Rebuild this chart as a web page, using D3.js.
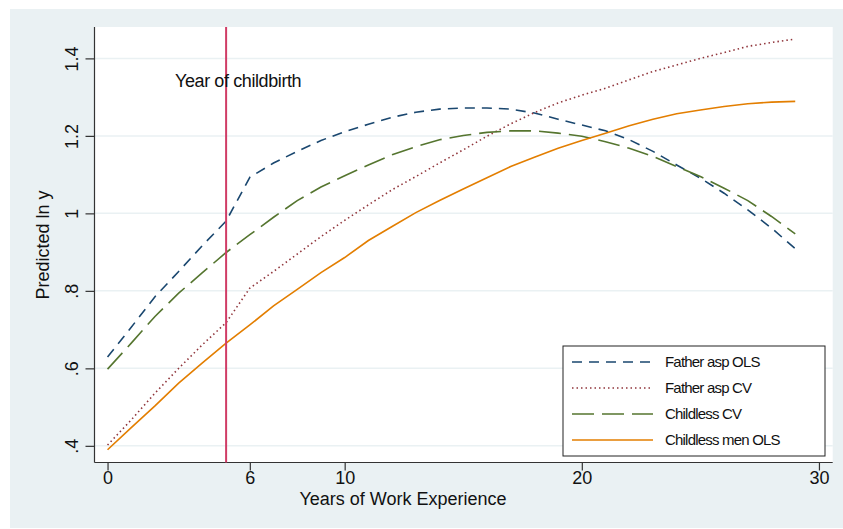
<!DOCTYPE html>
<html>
<head>
<meta charset="utf-8">
<script src="https://cdn.jsdelivr.net/npm/d3@7"></script>
<style>
  body { margin: 0; background: #fff; }
  svg { display: block; font-family: "Liberation Sans", Arial, sans-serif; }
  .grid line { stroke: #eaf1f3; stroke-width: 1.5; }
  .axis path, .axis line { stroke: #333; stroke-width: 1.2; }
  .axis text { font-size: 18px; fill: #111; }
</style>
</head>
<body>
<div class="wrapper"></div>
<script>
var years = d3.range(0, 30);
var fatherOLS = [0.629, 0.706, 0.785, 0.85, 0.917, 0.98, 1.093, 1.13, 1.16, 1.188,
  1.211, 1.23, 1.248, 1.261, 1.269, 1.272, 1.272, 1.269, 1.259, 1.243,
  1.228, 1.213, 1.19, 1.16, 1.125, 1.091, 1.052, 1.009, 0.962, 0.909];
var fatherCV = [0.402, 0.467, 0.536, 0.6, 0.661, 0.718, 0.807, 0.85, 0.895, 0.94,
  0.982, 1.022, 1.061, 1.095, 1.13, 1.164, 1.199, 1.231, 1.26, 1.285,
  1.305, 1.323, 1.345, 1.366, 1.383, 1.4, 1.415, 1.431, 1.441, 1.45];
var childlessCV = [0.598, 0.665, 0.734, 0.794, 0.847, 0.899, 0.945, 0.99, 1.033, 1.068,
  1.097, 1.125, 1.151, 1.172, 1.19, 1.201, 1.209, 1.213, 1.213, 1.207,
  1.199, 1.185, 1.168, 1.147, 1.121, 1.095, 1.065, 1.033, 0.992, 0.947];
var childlessOLS = [0.39, 0.447, 0.503, 0.562, 0.614, 0.665, 0.712, 0.761, 0.804, 0.847,
  0.886, 0.93, 0.966, 1.002, 1.033, 1.063, 1.092, 1.121, 1.145, 1.168,
  1.188, 1.207, 1.226, 1.243, 1.257, 1.267, 1.276, 1.283, 1.287, 1.289];
var seriesNames = ["Father asp OLS", "Father asp CV", "Childless CV", "Childless men OLS"];
var seriesValues = [fatherOLS, fatherCV, childlessCV, childlessOLS];
var colors = ["#1a476f", "#90353b", "#55752f", "#e37e00"];
var dashes = ["10,7", "1.5,3", "22,8", null];
var xTicks = [0, 6, 10, 20, 30];
var yTicks = [0.4, 0.6, 0.8, 1, 1.2, 1.4];
var childbirthYear = 5;

var width = 843, height = 529;
var plot = { left: 94.5, right: 832.7, top: 27, bottom: 462.5 };
var svg, x, y;

function initChart() {
  svg = d3.select(".wrapper").append("svg")
    .attr("width", width)
    .attr("height", height);

  // graph region and plot region
  svg.append("rect")
    .attr("x", 10).attr("y", 9)
    .attr("width", width - 10).attr("height", height - 10)
    .attr("fill", "#eaf1f3");
  svg.append("rect")
    .attr("x", plot.left).attr("y", plot.top)
    .attr("width", plot.right - plot.left).attr("height", plot.bottom - plot.top)
    .attr("fill", "#fff");

  x = d3.scaleLinear().domain([-0.55, 30.58]).range([plot.left, plot.right]);
  y = d3.scaleLinear().domain([0.357, 1.481]).range([plot.bottom, plot.top]);

  svg.append("g").attr("class", "grid")
    .selectAll("line").data(yTicks).enter().append("line")
    .attr("x1", plot.left).attr("x2", plot.right)
    .attr("y1", d => y(d)).attr("y2", d => y(d));

  drawAxes();
  drawLines();
  drawLegend();
}

function drawAxes() {
  var yAxis = svg.append("g").attr("class", "axis")
    .attr("transform", `translate(${plot.left},0)`)
    .call(d3.axisLeft(y).tickValues(yTicks).tickSizeInner(9).tickSizeOuter(0)
      .tickFormat(d => String(d).replace(/^0/, "")));
  yAxis.select(".domain").attr("d", `M0,${plot.top}V${plot.bottom}`);
  yAxis.selectAll(".tick text")
    .attr("x", 0).attr("dy", null)
    .attr("text-anchor", "middle")
    .attr("transform", "translate(-23,0) rotate(-90)")
    .attr("dominant-baseline", "central");

  var xAxis = svg.append("g").attr("class", "axis")
    .attr("transform", `translate(0,${plot.bottom})`)
    .call(d3.axisBottom(x).tickValues(xTicks).tickSizeInner(8).tickSizeOuter(0));
  xAxis.select(".domain").attr("d", `M${plot.left},0H${plot.right}`);
  xAxis.selectAll(".tick text").attr("y", 9).attr("dy", "0.72em");

  svg.append("text")
    .attr("transform", "translate(49,245) rotate(-90)")
    .attr("text-anchor", "middle")
    .attr("font-size", 18)
    .attr("fill", "#111")
    .text("Predicted ln y");

  svg.append("text")
    .attr("x", 403).attr("y", 505)
    .attr("text-anchor", "middle")
    .attr("font-size", 18)
    .attr("fill", "#111")
    .text("Years of Work Experience");
}

function drawLines() {
  var line = d3.line()
    .x((d, i) => x(years[i]))
    .y(d => y(d));

  svg.append("g").selectAll("path")
    .data(seriesValues).enter().append("path")
    .attr("d", line)
    .attr("fill", "none")
    .attr("stroke", (d, i) => colors[i])
    .attr("stroke-width", 1.6)
    .attr("stroke-dasharray", (d, i) => dashes[i]);

  // Year of childbirth marker
  svg.append("line")
    .attr("x1", x(childbirthYear)).attr("x2", x(childbirthYear))
    .attr("y1", plot.top).attr("y2", plot.bottom)
    .attr("stroke", "#d03c66")
    .attr("stroke-width", 2);

  svg.append("text")
    .attr("x", 175).attr("y", 87)
    .attr("font-size", 18)
    .attr("letter-spacing", -0.4)
    .attr("fill", "#111")
    .text("Year of childbirth");
}

function drawLegend() {
  var lg = svg.append("g").attr("transform", "translate(563,346)");
  lg.append("rect")
    .attr("width", 262).attr("height", 110)
    .attr("fill", "#fff")
    .attr("stroke", "#222")
    .attr("stroke-width", 1);

  var rows = lg.selectAll(".entry").data(seriesNames).enter().append("g")
    .attr("class", "entry")
    .attr("transform", (d, i) => `translate(0,${16 + i * 26})`);
  rows.append("line")
    .attr("x1", 9).attr("x2", 90)
    .attr("stroke", (d, i) => colors[i])
    .attr("stroke-width", 1.6)
    .attr("stroke-dasharray", (d, i) => dashes[i]);
  rows.append("text")
    .attr("x", 102)
    .attr("dy", "0.35em")
    .attr("font-size", 15)
    .attr("letter-spacing", -0.8)
    .attr("fill", "#111")
    .text(d => d);
}

initChart();
</script>
</body>
</html>
